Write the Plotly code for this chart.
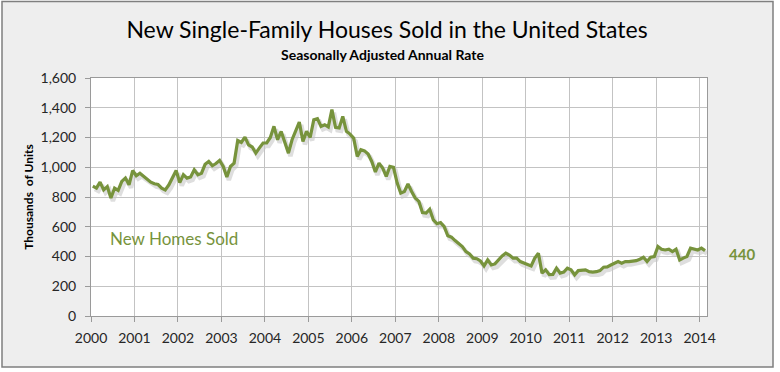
import plotly.graph_objects as go

years = list(range(2000, 2015))
year_labels = [str(y) for y in years]

sales_2000 = [873, 860, 900, 848, 870, 793, 860, 844, 905, 927, 882, 978]
sales_2001 = [943, 960, 940, 920, 900, 889, 884, 860, 848, 882, 930, 978]
sales_2002 = [897, 950, 927, 935, 983, 950, 960, 1020, 1039, 1010, 1025, 1046]
sales_2003 = [1005, 934, 1005, 1028, 1180, 1167, 1203, 1150, 1136, 1095, 1130, 1163]
sales_2004 = [1163, 1200, 1275, 1185, 1241, 1170, 1095, 1185, 1240, 1304, 1174, 1241]
sales_2005 = [1201, 1320, 1327, 1275, 1286, 1271, 1387, 1268, 1264, 1342, 1241, 1223]
sales_2006 = [1196, 1073, 1118, 1110, 1089, 1039, 968, 1028, 995, 938, 1005, 999]
sales_2007 = [895, 826, 837, 887, 837, 793, 770, 696, 692, 718, 646, 620]
sales_2008 = [628, 601, 539, 530, 507, 490, 467, 433, 417, 389, 385, 370]
sales_2009 = [337, 377, 343, 350, 377, 404, 422, 410, 389, 389, 366, 355]
sales_2010 = [348, 337, 389, 422, 288, 310, 278, 280, 321, 288, 295, 321]
sales_2011 = [310, 276, 305, 310, 310, 298, 295, 298, 305, 328, 330, 343]
sales_2012 = [355, 366, 355, 366, 366, 370, 372, 382, 395, 366, 395, 400]
sales_2013 = [467, 449, 444, 449, 433, 449, 377, 389, 400, 456, 449, 444]
sales_2014 = [456, 440]

yearly = [sales_2000, sales_2001, sales_2002, sales_2003, sales_2004, sales_2005,
          sales_2006, sales_2007, sales_2008, sales_2009, sales_2010, sales_2011,
          sales_2012, sales_2013, sales_2014]

x_vals, y_vals = [], []
for yr, vals in zip(years, yearly):
    for m, v in enumerate(vals):
        x_vals.append(yr + (m + 0.5) / 12)
        y_vals.append(v)

GREEN = "#77933c"
W, H = 780, 372
L, T = 91, 78
PW, PH = 616, 238
DX, DY = 2, 3
TW, TH = PW + DX, PH + DY
R = W - L - TW
B = H - T - TH

def px_x(p):
    return (p - L) / TW

def px_y(p):
    return (T + TH - p) / TH

fig = go.Figure()
# soft shadow (subplot x/y, offset down-right)
fig.add_trace(go.Scatter(x=x_vals, y=y_vals, mode="lines", xaxis="x", yaxis="y",
                         line=dict(color="rgba(0,0,0,0.13)", width=4.5),
                         hoverinfo="skip", showlegend=False))
# main line (subplot x2/y2)
fig.add_trace(go.Scatter(x=x_vals, y=y_vals, mode="lines", xaxis="x2", yaxis="y2",
                         line=dict(color=GREEN, width=3.2), name="New Homes Sold",
                         showlegend=False))

xr = [2000, 2014.17]
yr_ = [0, 1600]
grid = "#c3c3c3"
axc = "#9a9a9a"
tickfont = dict(family="Lato", size=14, color="#262626")

fig.update_layout(
    width=W, height=H,
    margin=dict(l=L, r=R, t=T, b=B, pad=0),
    paper_bgcolor="white",
    plot_bgcolor="rgba(0,0,0,0)",
    xaxis=dict(domain=[DX / TW, 1], range=xr, visible=False, anchor="y"),
    yaxis=dict(domain=[0, PH / TH], range=yr_, visible=False, anchor="x"),
    xaxis2=dict(domain=[0, PW / TW], range=xr, anchor="y2",
                tickvals=years, ticktext=year_labels, showgrid=True, gridcolor=grid,
                gridwidth=1, showline=True, linecolor=axc, mirror=True,
                ticks="outside", ticklen=5, tickcolor=axc, tickfont=tickfont,
                zeroline=False, ticklabelstandoff=4),
    yaxis2=dict(domain=[DY / TH, 1], range=yr_, anchor="x2", dtick=200,
                tickformat=",d", showgrid=True, gridcolor=grid, gridwidth=1,
                showline=True, linecolor=axc, mirror=True, ticks="outside",
                ticklen=5, tickcolor=axc, tickfont=tickfont, zeroline=False,
                ticklabelstandoff=6,
                title=dict(text="Thousands  of Units", standoff=4,
                           font=dict(family="Lato", size=12, color="black", weight="bold"))),
    title=dict(text="New Single-Family Houses Sold in the United States",
               x=387 / W, xanchor="center", y=1 - 30 / H, yanchor="middle",
               font=dict(family="Lato", size=23, color="black")),
    shapes=[
        dict(type="rect", xref="paper", yref="paper", layer="below",
             x0=px_x(2), x1=px_x(773), y0=px_y(367), y1=px_y(1.5),
             fillcolor="#eeeeee", line=dict(color="#7f7f7f", width=1.5)),
        dict(type="rect", xref="x2 domain", yref="y2 domain", layer="below",
             x0=0, x1=1, y0=0, y1=1, fillcolor="white", line=dict(width=0)),
    ],
    annotations=[
        dict(text="<b>Seasonally Adjusted Annual Rate</b>", xref="paper", yref="paper",
             x=px_x(382), y=px_y(55), xanchor="center", yanchor="middle",
             showarrow=False, font=dict(family="Lato", size=14, color="black")),
        dict(text="New Homes Sold", xref="x2", yref="y2", x=2000.39, y=524,
             xanchor="left", yanchor="middle", showarrow=False,
             font=dict(family="Lato", size=17, color=GREEN)),
        dict(text="<b>%d</b>" % y_vals[-1], xref="paper", yref="y2", x=px_x(727),
             y=y_vals[-1], yshift=-3, xanchor="left", yanchor="middle", showarrow=False,
             font=dict(family="Lato", size=15, color=GREEN)),
    ],
)

fig.write_html("out.html", config={"displayModeBar": False},
               post_script="document.body.style.margin='0';document.body.style.padding='0';")
